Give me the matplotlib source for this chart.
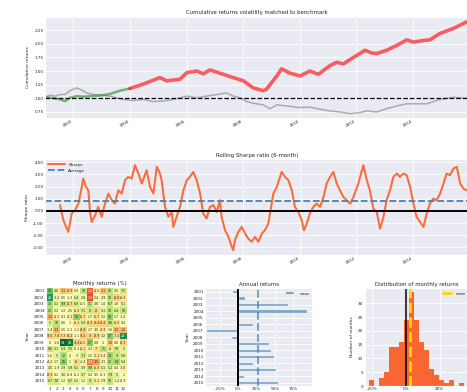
import numpy as np
import pandas as pd
import matplotlib
matplotlib.use("Agg")
import matplotlib.pyplot as plt
import seaborn as sns

# =============================================================================
# Data
# =============================================================================

# cumulative returns, x in fractional years
in_sample_years = [2001.00, 2001.18, 2001.35, 2001.53, 2001.71, 2001.88, 2002.12,
                   2002.35, 2002.59, 2002.94, 2003.30, 2003.65, 2004.00]
in_sample_values = [1.02, 1.01, 1.00, 0.98, 0.95, 1.01, 1.04,
                    1.03, 1.04, 1.05, 1.08, 1.14, 1.18]

live_years = [2004.00, 2004.47, 2005.06, 2005.30, 2005.77, 2006.01, 2006.36,
              2006.59, 2006.83, 2007.18, 2007.65, 2008.01, 2008.36, 2008.71,
              2008.83, 2009.19, 2009.36, 2009.66, 2010.01, 2010.36, 2010.66,
              2011.07, 2011.31, 2011.54, 2011.90, 2012.31, 2012.54, 2012.72,
              2013.07, 2013.43, 2013.78, 2014.02, 2014.37, 2014.60, 2014.96,
              2015.43, 2015.90]
live_values = [1.18, 1.26, 1.38, 1.32, 1.35, 1.47, 1.50,
               1.45, 1.52, 1.46, 1.38, 1.32, 1.19, 1.14,
               1.17, 1.41, 1.54, 1.46, 1.41, 1.50, 1.44,
               1.60, 1.66, 1.63, 1.75, 1.88, 1.83, 1.82,
               1.88, 1.97, 2.07, 2.03, 2.06, 2.07, 2.19,
               2.28, 2.40]

bench_years = [2001.00, 2001.18, 2001.35, 2001.53, 2001.71, 2001.88, 2002.12,
               2002.30, 2002.47, 2002.71, 2002.94, 2003.30, 2003.77, 2004.12,
               2004.47, 2004.83, 2005.18, 2005.53, 2005.77, 2006.01, 2006.36,
               2006.71, 2007.07, 2007.42, 2007.65, 2007.89, 2008.13, 2008.36,
               2008.71, 2008.95, 2009.19, 2009.54, 2010.01, 2010.36, 2010.72,
               2011.07, 2011.42, 2011.78, 2012.13, 2012.37, 2012.72, 2013.07,
               2013.43, 2013.78, 2014.13, 2014.49, 2014.72, 2014.96, 2015.43,
               2015.90]
bench_values = [1.02, 1.06, 1.04, 1.07, 1.07, 1.14, 1.19,
                1.15, 1.10, 1.07, 1.06, 1.04, 0.98, 0.96,
                0.98, 0.94, 0.95, 0.98, 1.01, 1.04, 1.01,
                1.04, 1.07, 1.10, 1.04, 1.01, 0.94, 0.91,
                0.88, 0.81, 0.88, 0.86, 0.83, 0.84, 0.80,
                0.77, 0.75, 0.72, 0.74, 0.77, 0.75, 0.81,
                0.86, 0.90, 0.90, 0.90, 0.94, 0.98, 1.02,
                1.00]

# rolling 6-month sharpe
sharpe_years = [2001.53, 2001.65, 2001.77, 2001.82, 2001.88, 2001.94, 2002.06,
                2002.18, 2002.30, 2002.35, 2002.45, 2002.53, 2002.59, 2002.65,
                2002.77, 2002.88, 2003.00, 2003.12, 2003.24, 2003.36, 2003.47,
                2003.59, 2003.71, 2003.83, 2003.94, 2004.06, 2004.18, 2004.30,
                2004.42, 2004.59, 2004.71, 2004.83, 2004.95, 2005.06, 2005.12,
                2005.24, 2005.36, 2005.48, 2005.53, 2005.65, 2005.77, 2005.89,
                2006.01, 2006.12, 2006.24, 2006.36, 2006.48, 2006.59, 2006.71,
                2006.83, 2006.95, 2007.07, 2007.18, 2007.24, 2007.36, 2007.48,
                2007.60, 2007.65, 2007.71, 2007.83, 2007.95, 2008.07, 2008.18,
                2008.30, 2008.42, 2008.54, 2008.66, 2008.77, 2008.89, 2008.95,
                2009.07, 2009.19, 2009.36, 2009.48, 2009.60, 2009.72, 2009.83,
                2009.95, 2010.07, 2010.15, 2010.25, 2010.36, 2010.48, 2010.60,
                2010.72, 2010.84, 2010.95, 2011.07, 2011.19, 2011.31, 2011.42,
                2011.54, 2011.66, 2011.78, 2011.90, 2012.07, 2012.25, 2012.37,
                2012.48, 2012.60, 2012.72, 2012.84, 2012.96, 2013.07, 2013.19,
                2013.31, 2013.43, 2013.54, 2013.66, 2013.78, 2013.90, 2014.02,
                2014.13, 2014.25, 2014.37, 2014.49, 2014.60, 2014.72, 2014.84,
                2014.96, 2015.08, 2015.19, 2015.31, 2015.43, 2015.55, 2015.67,
                2015.78, 2015.90]
sharpe_values = [0.47, -0.77, -1.46, -1.73, -1.04, -0.22, 0.05,
                 0.60, 1.98, 2.66, 1.98, 1.70, -0.08, -0.91,
                 -0.36, 0.33, -0.49, 0.60, 1.43, 0.88, 0.60,
                 1.70, 1.43, 2.53, 2.80, 2.66, 3.76, 3.08,
                 2.25, 3.35, 1.98, 1.43, 3.63, 3.08, 2.53,
                 0.33, -0.49, -0.08, -1.32, -0.49, 0.33, 1.70,
                 2.53, 2.80, 3.21, 2.53, 1.43, -0.22, -0.63,
                 0.33, 0.47, -0.08, 0.88, -0.49, -1.59, -2.14,
                 -2.97, -3.24, -2.42, -1.73, -1.32, -1.87, -2.28,
                 -2.55, -2.14, -2.55, -1.87, -1.59, -1.04, -0.22,
                 1.43, 1.98, 3.21, 2.80, 2.53, 1.70, 0.33,
                 -0.08, -0.77, -1.59, -1.04, -0.22, 0.33, 0.60,
                 0.33, 1.15, 2.25, 2.80, 3.21, 2.25, 1.70,
                 1.15, 0.88, 0.60, 1.15, 2.25, 3.76, 2.53,
                 1.70, 0.19, -0.08, -1.46, -0.49, 0.88, 1.70,
                 2.80, 3.08, 2.80, 3.08, 2.94, 1.98, 0.60,
                 -0.49, -0.91, -1.32, -0.22, 0.60, 1.02, 0.88,
                 1.43, 2.25, 3.08, 2.94, 3.49, 3.63, 2.25,
                 1.84, 1.70]
sharpe_average = 0.85

# monthly returns (%)
years = list(range(2001, 2016))
months = list(range(1, 13))
monthly_returns = [
    [19, 4.6, -11, -8.9, 0.9, 10, -22, -4.5, -11, 10, 3.5, 7.5],
    [26, -3.2, 0.5, -1.3, 5.4, 2.8, -24, 2.4, 2.9, 10, -8.8, -6.3],
    [12, 3.2, 9.9, -8.7, 6.8, -0.5, 11, 3.6, 1.4, 8.7, 1.8, 5.1],
    [12, 2.2, 1.3, 2.5, -6.3, 7.1, 8, -8, 5.1, 10, 6.4, 10],
    [-13, -4.1, 0.3, -4.1, 16, -6.7, 1.7, -6.7, 2.2, 16, 1.7, -1.4],
    [5.0, 10, 0.6, -1, -6.1, 5.9, -8.3, -8.4, -8.4, 9.6, -6.5, 0.4],
    [-1.4, -12, 1.5, -1.1, -1.2, -8.9, 1.7, 3.5, -4.9, 1.6, -12, -12],
    [-9.5, -7.8, -7.3, -8.2, -1.1, -9.2, -9, -8.9, 3.2, 17, -7.4, 28],
    [0, -1.6, 34, 31, -9.4, -6.5, 17, 0.8, -1, -10, 0.6, -8.3],
    [8.6, 5.1, 5.9, 7.5, -0.3, -6.1, 2.3, -7, 11, -6, 7.8, 5],
    [-1.6, 5, 12, -2, 3, 7.3, 1.5, -5.1, -3.4, 14, 9, 5.8],
    [-4.2, 1.7, 16, 1.0, -8, -2.4, -19, -15, 3.1, 12, 14, 5.4],
    [4.5, -1.9, 3.9, 5.9, 6.1, 3.9, 9.8, -6.9, 5.1, 5.2, 0.4, -3.8],
    [-8.3, 0.2, 3.6, -0.8, -0.2, 5.7, 0.4, 0.5, -0.1, 7.9, 5, 1],
    [6.7, 7.8, 1.3, 6.7, 5.1, 1.2, 8, -5.1, 2.9, 10, -1.4, -0.9],
]

# annual returns (%)
annual_returns = [-9.1, 9.1, 67.3, 93.7, -3.7, 20.1, -44.1, -10.5,
                  41.9, 45.0, 48.7, 20.5, 51.4, 8.2, 54.6]

# distribution of monthly returns: histogram counts per bin
hist_counts = [2, 0, 3, 5, 14, 14, 16, 24, 34, 24, 16, 13, 6, 4, 2, 1, 2, 0, 1]
hist_first_edge = -21.4
hist_last_edge = 34.5
hist_mean = 2.4

date_ticks = [2002, 2004, 2006, 2008, 2010, 2012, 2014]

TICK_SIZE = 3.0
LABEL_SIZE = 3.2
TITLE_SIZE = 3.9


# =============================================================================
# Helpers
# =============================================================================

def style_axis(ax):
    ax.tick_params(axis="both", labelsize=TICK_SIZE, pad=1, length=0)
    ax.grid(True, color="white", linewidth=0.6)


def set_date_axis(ax):
    ax.set_xlim(2001.0, 2016.0)
    ax.set_xticks(date_ticks)
    ax.set_xticklabels([str(y) for y in date_ticks], rotation=30, ha="right")


# =============================================================================
# Panels
# =============================================================================

def plot_cumulative(ax):
    ax.plot(bench_years, bench_values, color="gray", lw=1.1, alpha=0.6)
    ax.plot(in_sample_years, in_sample_values, color="forestgreen", lw=1.8, alpha=0.6)
    ax.plot(live_years, live_values, color="red", lw=2.6, alpha=0.6)
    ax.axhline(1.0, linestyle="--", color="black", lw=0.9)

    set_date_axis(ax)
    ax.set_ylim(0.64, 2.49)
    ax.set_yticks(np.arange(0.75, 2.26, 0.25))
    ax.yaxis.set_major_formatter(plt.FormatStrFormatter("%.2f"))
    ax.set_ylabel("Cumulative returns", fontsize=LABEL_SIZE, labelpad=3)
    ax.set_title("Cumulative returns volatility matched to benchmark",
                 fontsize=TITLE_SIZE, pad=2)
    style_axis(ax)


def plot_rolling_sharpe(ax):
    ax.plot(sharpe_years, sharpe_values, color="orangered", lw=1.5, alpha=0.75,
            label="Sharpe")
    ax.axhline(sharpe_average, color="steelblue", linestyle="--", lw=1.3,
               label="Average")
    ax.axhline(0.0, color="black", lw=1.4)

    set_date_axis(ax)
    ax.set_ylim(-3.65, 4.25)
    ax.set_yticks(np.arange(-3, 5, 1))
    ax.yaxis.set_major_formatter(plt.FormatStrFormatter("%.2f"))
    ax.set_ylabel("Sharpe ratio", fontsize=LABEL_SIZE, labelpad=3)
    ax.set_title("Rolling Sharpe ratio (6-month)", fontsize=TITLE_SIZE, pad=2)
    ax.legend(loc="upper left", fontsize=TICK_SIZE, frameon=False,
              handlelength=4, borderaxespad=0.4)
    style_axis(ax)


def plot_monthly_heatmap(ax):
    table = pd.DataFrame(monthly_returns, index=years, columns=months)
    sns.heatmap(table, annot=True, fmt=".2g", annot_kws={"size": 2.3},
                center=0.0, cbar=False, cmap="RdYlGn", ax=ax,
                xticklabels=True, yticklabels=True)
    ax.tick_params(axis="y", rotation=0)
    ax.tick_params(axis="x", rotation=0)
    ax.tick_params(axis="both", labelsize=TICK_SIZE, pad=1.5, length=0)
    ax.set_ylabel("Year", fontsize=LABEL_SIZE, labelpad=3)
    ax.set_xlabel("")
    ax.set_title("Monthly returns (%)", fontsize=TITLE_SIZE, pad=2, x=0.67)


def plot_annual(ax):
    positions = np.arange(len(years))[::-1]
    mean_ret = np.mean(annual_returns)
    ax.axvline(mean_ret, color="steelblue", linestyle="--", lw=1.5, alpha=0.7,
               label="mean")
    ax.barh(positions, annual_returns, height=0.5, color="steelblue", alpha=0.7)
    ax.axvline(0.0, color="black", lw=1.4)

    ax.set_yticks(positions)
    ax.set_yticklabels(years)
    ax.set_ylim(-0.5, len(years) - 0.5)
    ax.set_xlim(-45.5, 101)
    ax.set_xticks([-25, 0, 25, 50, 75])
    ax.set_xticklabels(["-25%", "0%", "25%", "50%", "75%"])
    ax.set_ylabel("Year", fontsize=LABEL_SIZE, labelpad=2)
    ax.set_title("Annual returns", fontsize=TITLE_SIZE, pad=2)
    ax.legend(loc="upper right", fontsize=TICK_SIZE * 0.85, frameon=False,
              handlelength=3)
    style_axis(ax)


def plot_distribution(ax):
    edges = np.linspace(hist_first_edge, hist_last_edge, len(hist_counts) + 1)
    ax.bar(edges[:-1], hist_counts, width=np.diff(edges), align="edge",
           color="orangered", alpha=0.8, linewidth=0)
    ax.axvline(hist_mean, color="gold", linestyle="--", lw=2.0, label="mean")
    ax.axvline(0.0, color="black", lw=1.5, alpha=0.75)

    ax.set_xlim(-24.2, 37.3)
    ax.set_ylim(0, 35.5)
    ax.set_xticks([-20, 0, 20])
    ax.set_xticklabels(["-20%", "0%", "20%"])
    ax.set_yticks(range(0, 31, 5))
    ax.set_ylabel("Number of months", fontsize=LABEL_SIZE, labelpad=3)
    ax.set_title("Distribution of monthly returns", fontsize=TITLE_SIZE, pad=2)
    ax.legend(loc="upper right", fontsize=TICK_SIZE * 0.85, frameon=False,
              handlelength=3)
    style_axis(ax)


# =============================================================================
# Main
# =============================================================================

def main():
    sns.set_style("darkgrid")
    plt.rcParams["font.family"] = ["DejaVu Sans"]

    fig = plt.figure(figsize=(4.67, 3.92), dpi=100)

    ax_cum = fig.add_axes([0.0964, 0.699, 0.909, 0.2577])
    ax_sharpe = fig.add_axes([0.0964, 0.349, 0.909, 0.2446])
    ax_heat = fig.add_axes([0.100, 0.0191, 0.1713, 0.2462])
    ax_annual = fig.add_axes([0.439, 0.0153, 0.2298, 0.2492])
    ax_dist = fig.add_axes([0.7807, 0.0153, 0.2236, 0.2492])

    plot_cumulative(ax_cum)
    plot_rolling_sharpe(ax_sharpe)
    plot_monthly_heatmap(ax_heat)
    plot_annual(ax_annual)
    plot_distribution(ax_dist)

    fig.savefig("out.png", dpi=100)


if __name__ == "__main__":
    main()
